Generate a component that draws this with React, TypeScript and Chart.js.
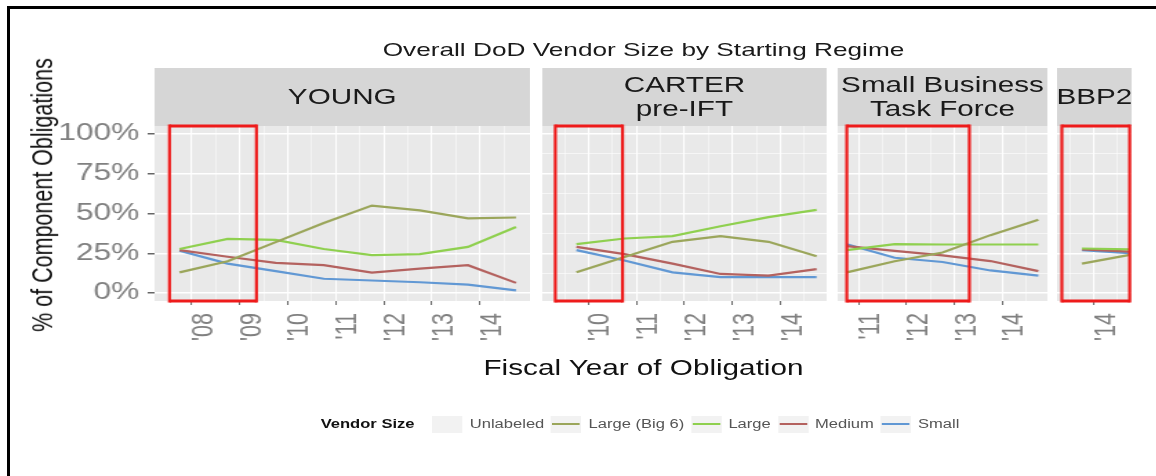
import React, { useEffect, useRef } from 'react';
import { Chart, registerables } from 'chart.js';

Chart.register(...registerables);

// ---------------- text ----------------
const CHART_TITLE = 'Overall DoD Vendor Size by Starting Regime';
const Y_AXIS_TITLE = '% of Component Obligations';
const X_AXIS_TITLE = 'Fiscal Year of Obligation';
const LEGEND_TITLE = 'Vendor Size';

// ---------------- series ----------------
const VENDOR_SIZES = ['Unlabeled', 'Large (Big 6)', 'Large', 'Medium', 'Small'];
const VENDOR_COLORS = ['rgba(0,0,0,0)', '#9ba65b', '#8fd04f', '#b4625f', '#6198d4'];

// ---------------- facets (starting regime) ----------------
const REGIMES = ['YOUNG', 'CARTER\npre-IFT', 'Small Business\nTask Force', 'BBP2'];

const YOUNG_FY = [2008, 2009, 2010, 2011, 2012, 2013, 2014, 2015];
const YOUNG_BIG6 = [0.13, 0.2, 0.32, 0.44, 0.55, 0.52, 0.47, 0.475];
const YOUNG_LARGE = [0.277, 0.34, 0.334, 0.277, 0.238, 0.245, 0.29, 0.415];
const YOUNG_MEDIUM = [0.27, 0.228, 0.19, 0.175, 0.128, 0.153, 0.175, 0.064];
const YOUNG_SMALL = [0.266, 0.185, 0.138, 0.09, 0.079, 0.068, 0.053, 0.017];

const CARTER_FY = [2010, 2011, 2012, 2013, 2014, 2015];
const CARTER_BIG6 = [0.13, 0.227, 0.322, 0.358, 0.322, 0.231];
const CARTER_LARGE = [0.307, 0.343, 0.358, 0.42, 0.477, 0.523];
const CARTER_MEDIUM = [0.29, 0.245, 0.185, 0.12, 0.11, 0.15];
const CARTER_SMALL = [0.27, 0.205, 0.13, 0.1, 0.1, 0.1];

const SBTF_FY = [2011, 2012, 2013, 2014, 2015];
const SBTF_BIG6 = [0.13, 0.2, 0.255, 0.364, 0.46];
const SBTF_LARGE = [0.27, 0.307, 0.305, 0.305, 0.305];
const SBTF_MEDIUM = [0.295, 0.265, 0.237, 0.201, 0.138];
const SBTF_SMALL = [0.307, 0.222, 0.195, 0.142, 0.11];

const BBP2_FY = [2014, 2015];
const BBP2_BIG6 = [0.185, 0.24];
const BBP2_LARGE = [0.28, 0.275];
const BBP2_MEDIUM = [0.275, 0.26];
const BBP2_SMALL = [0.27, 0.25];

// ---------------- ticks / ranges ----------------
const Y_TICKS = [0, 0.25, 0.5, 0.75, 1];
const Y_MINOR_TICKS = [0.125, 0.375, 0.625, 0.875];
const Y_RANGE = [-0.05, 1.05];

const YOUNG_X_TICKS = [2008, 2009, 2010, 2011, 2012, 2013, 2014];
const CARTER_X_TICKS = [2010, 2011, 2012, 2013, 2014];
const SBTF_X_TICKS = [2011, 2012, 2013, 2014];
const BBP2_X_TICKS = [2014];

const YOUNG_X_RANGE = [2007.23, 2015.04];
const CARTER_X_RANGE = [2009.04, 2014.96];
const SBTF_X_RANGE = [2010.56, 2014.94];
const BBP2_X_RANGE = [2013.23, 2014.79];

// red highlight boxes (in fiscal-year units)
const YOUNG_HIGHLIGHT = [2007.54, 2009.35];
const CARTER_HIGHLIGHT = [2009.31, 2010.71];
const SBTF_HIGHLIGHT = [2010.75, 2013.31];
const BBP2_HIGHLIGHT = [2013.33, 2014.75];

// a fiscal year starts on Oct 1 of the previous calendar year
const FY_START_OFFSET = -0.25;

const FACETS = [
  { label: REGIMES[0], fy: YOUNG_FY, values: [null, YOUNG_BIG6, YOUNG_LARGE, YOUNG_MEDIUM, YOUNG_SMALL], ticks: YOUNG_X_TICKS, range: YOUNG_X_RANGE, highlight: YOUNG_HIGHLIGHT },
  { label: REGIMES[1], fy: CARTER_FY, values: [null, CARTER_BIG6, CARTER_LARGE, CARTER_MEDIUM, CARTER_SMALL], ticks: CARTER_X_TICKS, range: CARTER_X_RANGE, highlight: CARTER_HIGHLIGHT },
  { label: REGIMES[2], fy: SBTF_FY, values: [null, SBTF_BIG6, SBTF_LARGE, SBTF_MEDIUM, SBTF_SMALL], ticks: SBTF_X_TICKS, range: SBTF_X_RANGE, highlight: SBTF_HIGHLIGHT },
  { label: REGIMES[3], fy: BBP2_FY, values: [null, BBP2_BIG6, BBP2_LARGE, BBP2_MEDIUM, BBP2_SMALL], ticks: BBP2_X_TICKS, range: BBP2_X_RANGE, highlight: BBP2_HIGHLIGHT },
];

// ---------------- layout (the reference is stretched horizontally) ----------------
const S = 1.38;
const W = 1156 / S;
const FONT = '"Liberation Sans", Arial, Helvetica, sans-serif';
const PANELS_X = [[155, 530], [543, 827], [838, 1048], [1057, 1132]];
const STRIP_TOP = 68;
const PANEL_TOP = 126;
const PANEL_H = 175;
const CANVAS_TOP = 110;
const X_AXIS_H = 69;
const CANVAS_H = PANEL_TOP - CANVAS_TOP + PANEL_H + X_AXIS_H;
const PANEL_BG = '#e9e9e9';
const STRIP_BG = '#d6d6d6';
const TICK_COLOR = '#808080';

const panelBg = {
  id: 'panelBg',
  beforeDraw(chart: any) {
    const { ctx, chartArea: a } = chart;
    ctx.save();
    ctx.fillStyle = PANEL_BG;
    ctx.fillRect(a.left, a.top, a.right - a.left, a.bottom - a.top);
    ctx.restore();
  },
};

const highlightBox = {
  id: 'highlightBox',
  afterDraw(chart: any, _args: any, opts: any) {
    if (!opts || !opts.range) return;
    const { ctx, chartArea: a } = chart;
    const xs = chart.scales.x;
    const x0 = xs.getPixelForValue(opts.range[0]);
    const x1 = xs.getPixelForValue(opts.range[1]);
    ctx.save();
    ctx.strokeStyle = '#ee1b1b';
    ctx.lineWidth = 3;
    ctx.beginPath();
    ctx.moveTo(x0, a.top);
    ctx.lineTo(x1, a.top);
    ctx.moveTo(x0, a.bottom);
    ctx.lineTo(x1, a.bottom);
    ctx.stroke();
    ctx.lineWidth = 2.2;
    ctx.beginPath();
    ctx.moveTo(x0, a.top - 1.5);
    ctx.lineTo(x0, a.bottom + 1.5);
    ctx.moveTo(x1, a.top - 1.5);
    ctx.lineTo(x1, a.bottom + 1.5);
    ctx.stroke();
    ctx.restore();
  },
};

function buildConfig(f: any, i: number) {
  const first = i === 0;
  const yAxisW = first ? Math.round(PANELS_X[0][0] / S) : 0;
  const datasets = VENDOR_SIZES.map((name, k) => ({
    label: name,
    data: f.values[k] ? f.fy.map((y: number, j: number) => ({ x: y + FY_START_OFFSET, y: f.values[k][j] })) : [],
    borderColor: VENDOR_COLORS[k],
    backgroundColor: VENDOR_COLORS[k],
    borderWidth: 2.2,
    pointRadius: 0,
    tension: 0,
    fill: false,
  }));
  return {
    type: 'line',
    data: { datasets },
    options: {
      animation: false,
      responsive: false,
      events: [],
      layout: { padding: { top: PANEL_TOP - CANVAS_TOP, left: 0, right: 0, bottom: 0 } },
      plugins: {
        legend: { display: false },
        tooltip: { enabled: false },
        title: { display: false },
        highlightBox: { range: f.highlight },
      },
      scales: {
        x: {
          type: 'linear',
          min: f.range[0],
          max: f.range[1],
          border: { display: false },
          afterBuildTicks: (scale: any) => {
            const t: any[] = [];
            f.ticks.forEach((v: number) => {
              t.push({ value: v });
            });
            const all = [...f.ticks, f.ticks[0] - 1, f.ticks[f.ticks.length - 1] + 1];
            all.forEach((v: number) => {
              [v - 0.5, v + 0.5].forEach((m) => {
                if (m > f.range[0] && m < f.range[1] && !t.some((q) => Math.abs(q.value - m) < 1e-6)) t.push({ value: m, minor: true });
              });
            });
            t.sort((a, b) => a.value - b.value);
            scale.ticks = t;
          },
          afterFit: (scale: any) => {
            scale.height = X_AXIS_H;
            scale.paddingLeft = 0;
            scale.paddingRight = 0;
          },
          grid: {
            color: '#ffffff',
            lineWidth: (c: any) => (c.tick && c.tick.minor ? 0.5 : 1.1),
            drawTicks: true,
            tickLength: 4,
            tickWidth: 1,
            tickColor: (c: any) => (c.tick && c.tick.minor ? 'rgba(0,0,0,0)' : '#666666'),
          },
          ticks: {
            autoSkip: false,
            minRotation: 90,
            maxRotation: 90,
            padding: 8,
            labelOffset: 9,
            color: TICK_COLOR,
            font: { family: FONT, size: 21.5 },
            callback: (v: number, idx: number, ticks: any[]) =>
              ticks[idx] && ticks[idx].minor ? '' : "'" + String(Math.round(v)).slice(-2),
          },
        },
        y: {
          type: 'linear',
          min: Y_RANGE[0],
          max: Y_RANGE[1],
          border: { display: false },
          afterBuildTicks: (scale: any) => {
            const t: any[] = Y_TICKS.map((v) => ({ value: v }));
            Y_MINOR_TICKS.forEach((v) => t.push({ value: v, minor: true }));
            t.sort((a, b) => a.value - b.value);
            scale.ticks = t;
          },
          afterFit: (scale: any) => {
            scale.width = yAxisW;
            scale.paddingTop = 0;
            scale.paddingBottom = 0;
          },
          grid: {
            color: '#ffffff',
            lineWidth: (c: any) => (c.tick && c.tick.minor ? 0.6 : 1.5),
            drawTicks: first,
            tickLength: 5,
            tickWidth: 1.5,
            tickColor: (c: any) => (c.tick && c.tick.minor ? 'rgba(0,0,0,0)' : '#666666'),
          },
          ticks: {
            display: first,
            padding: 6,
            color: TICK_COLOR,
            font: { family: FONT, size: 23 },
            callback: (v: number, idx: number, ticks: any[]) =>
              ticks[idx] && ticks[idx].minor ? '' : Math.round(v * 100) + '%',
          },
        },
      },
    },
    plugins: [panelBg, highlightBox],
  };
}

export default function App() {
  const r0 = useRef<HTMLCanvasElement>(null);
  const r1 = useRef<HTMLCanvasElement>(null);
  const r2 = useRef<HTMLCanvasElement>(null);
  const r3 = useRef<HTMLCanvasElement>(null);
  const refs = [r0, r1, r2, r3];

  useEffect(() => {
    const charts = FACETS.map((f, i) => new Chart(refs[i].current as any, buildConfig(f, i) as any));
    return () => charts.forEach((c) => c.destroy());
  }, []);

  const plotLeft = PANELS_X[0][0] / S;
  const plotWidth = (PANELS_X[3][1] - PANELS_X[0][0]) / S;

  return (
    <div style={{ position: 'absolute', left: 0, top: 0, width: 1156, height: 476, overflow: 'hidden', background: '#fff' }}>
      <div
        style={{
          position: 'absolute',
          left: 7,
          top: 6,
          width: 1200,
          height: 520,
          borderTop: '3px solid #000',
          borderLeft: '3px solid #000',
          boxSizing: 'border-box',
        }}
      />
      <div
        style={{
          position: 'absolute',
          left: 0,
          top: 0,
          width: W,
          height: 476,
          transform: `scaleX(${S})`,
          transformOrigin: '0 0',
          fontFamily: FONT,
        }}
      >
        <div style={{ position: 'absolute', left: plotLeft, width: plotWidth, top: 38, height: 24, lineHeight: '24px', textAlign: 'center', fontSize: 19, color: '#1a1a1a', whiteSpace: 'nowrap' }}>
          {CHART_TITLE}
        </div>

        {FACETS.map((f, i) => {
          const l = Math.round(PANELS_X[i][0] / S);
          const r = Math.round(PANELS_X[i][1] / S);
          return (
            <div
              key={'strip' + i}
              style={{
                position: 'absolute',
                left: l,
                width: r - l,
                top: STRIP_TOP,
                height: PANEL_TOP - STRIP_TOP,
                background: STRIP_BG,
                display: 'flex',
                alignItems: 'center',
                justifyContent: 'center',
                textAlign: 'center',
                whiteSpace: 'pre-line',
                fontSize: 21.5,
                lineHeight: '24px',
                color: '#1a1a1a',
              }}
            >
              {f.label}
            </div>
          );
        })}

        {FACETS.map((f, i) => {
          const l = i === 0 ? 0 : Math.round(PANELS_X[i][0] / S);
          const r = Math.round(PANELS_X[i][1] / S);
          return (
            <canvas
              key={'c' + i}
              ref={refs[i]}
              width={r - l}
              height={CANVAS_H}
              style={{ position: 'absolute', left: l, top: CANVAS_TOP, width: r - l, height: CANVAS_H }}
            />
          );
        })}

        <div
          style={{
            position: 'absolute',
            left: 43 / S,
            top: 195,
            transform: 'translate(-50%, -50%) rotate(-90deg)',
            fontSize: 21.5,
            lineHeight: '24px',
            color: '#111',
            whiteSpace: 'nowrap',
          }}
        >
          {Y_AXIS_TITLE}
        </div>

        <div style={{ position: 'absolute', left: plotLeft, width: plotWidth, top: 355, height: 26, lineHeight: '26px', textAlign: 'center', fontSize: 21.5, color: '#111', whiteSpace: 'nowrap' }}>
          {X_AXIS_TITLE}
        </div>

        <div
          style={{
            position: 'absolute',
            left: plotLeft,
            width: plotWidth,
            top: 412,
            height: 24,
            display: 'flex',
            alignItems: 'center',
            justifyContent: 'center',
            whiteSpace: 'nowrap',
          }}
        >
          <span style={{ fontSize: 12, fontWeight: 'bold', color: '#111', marginRight: 13 }}>{LEGEND_TITLE}</span>
          {VENDOR_SIZES.map((name, k) => (
            <React.Fragment key={name}>
              <span style={{ position: 'relative', display: 'inline-block', width: 22, height: 17, background: '#f2f2f2' }}>
                <span style={{ position: 'absolute', left: 1, right: 1, top: 7.5, height: 2, background: VENDOR_COLORS[k] }} />
              </span>
              <span style={{ fontSize: 12, color: '#555', marginLeft: 5, marginRight: 5 }}>{name}</span>
            </React.Fragment>
          ))}
        </div>
      </div>
    </div>
  );
}
